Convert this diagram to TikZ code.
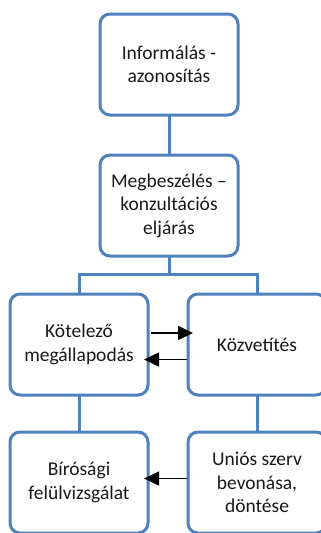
\documentclass[tikz,border=0pt]{standalone}
\usepackage{fontspec}
\setmainfont{Carlito}
\usetikzlibrary{arrows.meta,positioning}
\definecolor{officeBlue}{RGB}{79, 129, 189}
\definecolor{officeText}{RGB}{25, 25, 25}

\begin{document}
\begin{tikzpicture}[
  stagebox/.style={
    draw=officeBlue,
    line width=3pt,
    fill=white,
    rounded corners=10pt,
    outer sep=0pt,
    minimum width=138pt,
    minimum height=101pt,
    align=center,
    text=officeText,
    font=\fontsize{19.5}{23.5}\selectfont
  },
  link/.style={officeBlue,line width=3pt},
  arrow/.style={-{Triangle[length=15pt,width=14pt]},line width=1.5pt,black}
]
  \clip (0,0) rectangle (321pt,-533pt);
  \node[stagebox] (informal) at (169pt,-64.5pt) {Informálás -\\azonosítás};
  \node[stagebox,below=40pt of informal] (megbesz) {Megbeszélés –\\konzultációs\\eljárás};
  \node[stagebox,below=38pt of megbesz,xshift=-90pt] (kotelezo) {Kötelező\\megállapodás};
  \node[stagebox,right=40pt of kotelezo] (kozvetites) {Közvetítés};
  \node[stagebox,below=37pt of kotelezo] (birosagi) {Bírósági\\felülvizsgálat};
  \node[stagebox,right=40pt of birosagi] (unios) {Uniós szerv\\bevonása,\\döntése};
  \draw[link] (informal) -- (megbesz);
  \draw[link] (megbesz.south) -- ++(0,-18pt) -| (kotelezo.north);
  \draw[link] (megbesz.south) -- ++(0,-18pt) -| (kozvetites.north);
  \draw[link] (kotelezo) -- (birosagi);
  \draw[link] (kozvetites) -- (unios);
  \draw[arrow] ([xshift=3pt,yshift=11.5pt]kotelezo.east) -- ([xshift=5pt,yshift=11.5pt]kozvetites.west);
  \draw[arrow] ([xshift=-1pt,yshift=-15pt]kozvetites.west) -- ([xshift=-4pt,yshift=-15pt]kotelezo.east);
  \draw[arrow] ([xshift=-1pt,yshift=4pt]unios.west) -- ([xshift=-4pt,yshift=4pt]birosagi.east);
\end{tikzpicture}
\end{document}
